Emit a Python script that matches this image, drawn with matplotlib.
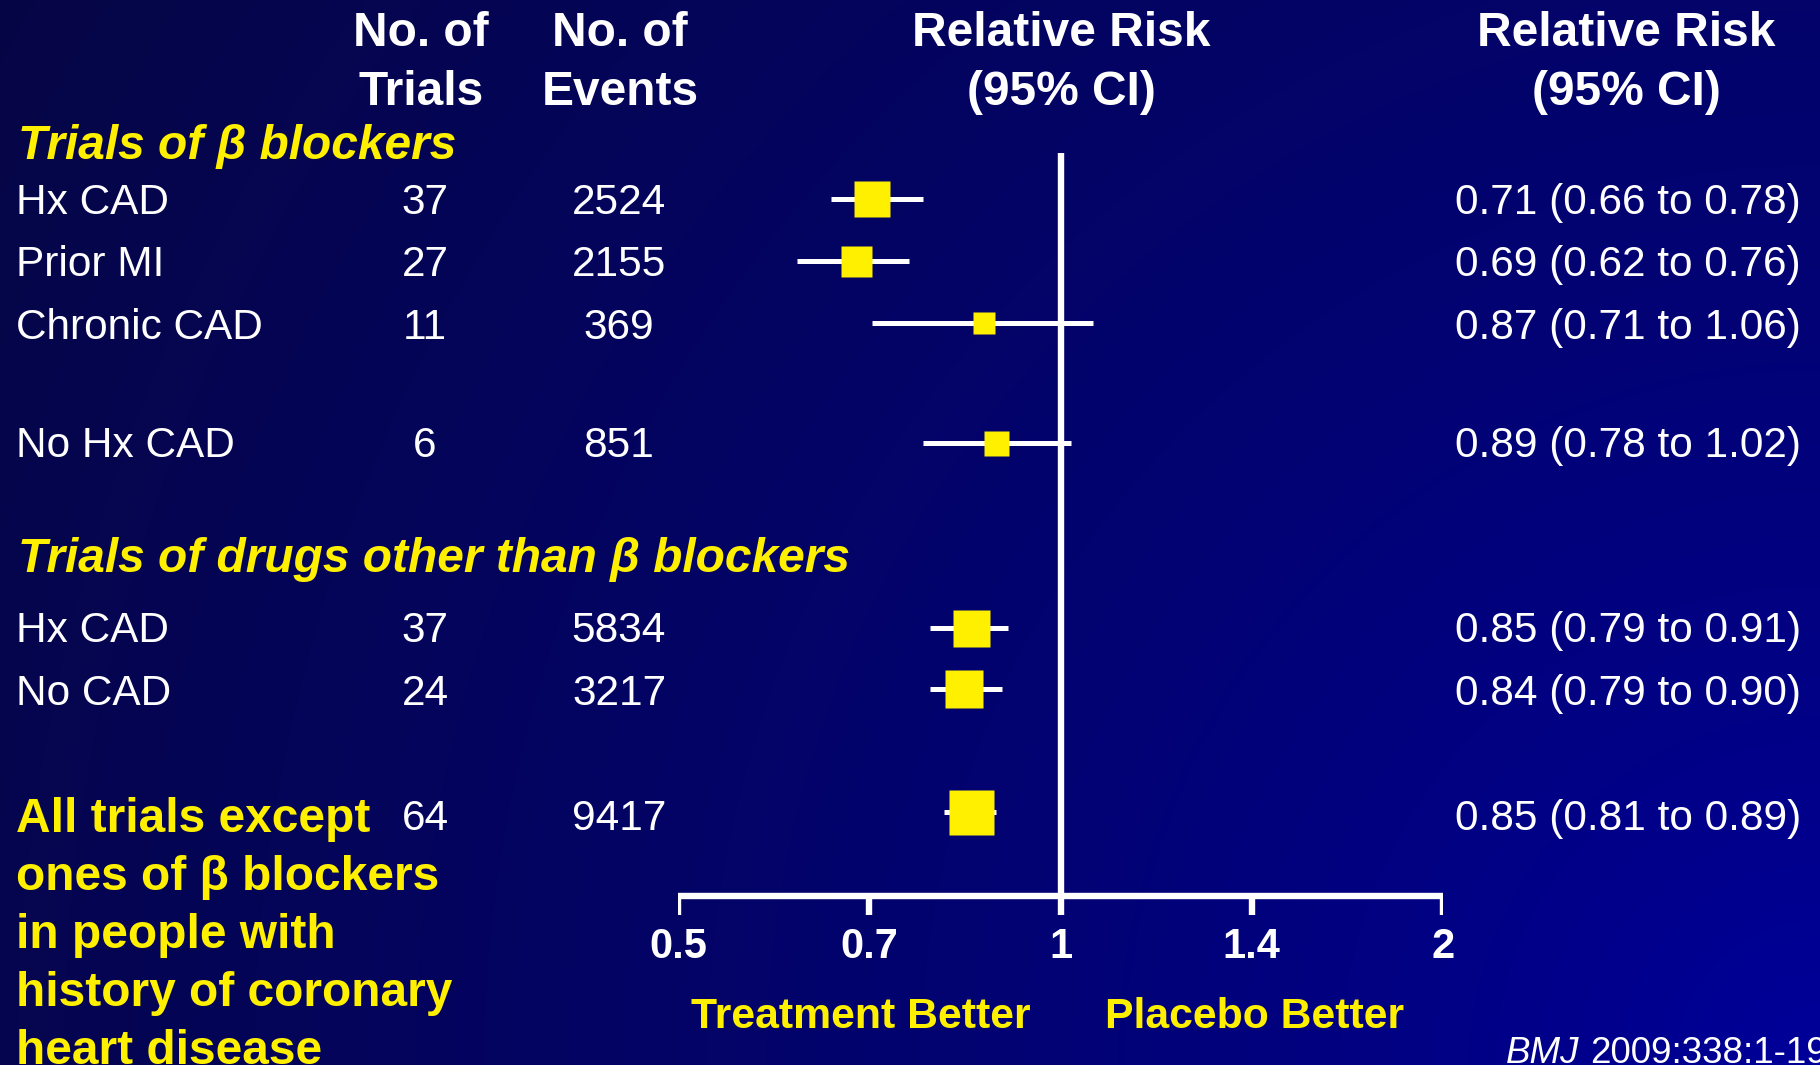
import numpy as np
import matplotlib
matplotlib.use("Agg")
import matplotlib.pyplot as plt

# ---- data -------------------------------------------------------------
row_labels = ["Hx CAD", "Prior MI", "Chronic CAD", "No Hx CAD",
              "Hx CAD", "No CAD", None]
n_trials = [37, 27, 11, 6, 37, 24, 64]
n_events = [2524, 2155, 369, 851, 5834, 3217, 9417]
rr = [0.71, 0.69, 0.87, 0.89, 0.85, 0.84, 0.85]
ci_low = [0.66, 0.62, 0.71, 0.78, 0.79, 0.79, 0.81]
ci_high = [0.78, 0.76, 1.06, 1.02, 0.91, 0.90, 0.89]

section_titles = ["Trials of \u03b2 blockers",
                  "Trials of drugs other than \u03b2 blockers"]
overall_label = ["All trials except", "ones of \u03b2 blockers",
                 "in people with", "history of coronary", "heart disease"]
tick_labels = ["0.5", "0.7", "1", "1.4", "2"]

# ---- layout (figure pixels, y measured from the top) -------------------
W, H = 1820, 1065
row_base = [214, 276, 339, 457, 642, 705, 830]   # text baselines
row_mid = [199, 261, 323, 443, 628, 689, 812]    # marker centres
section_base = [159, 572]
square_px = [36, 31, 23, 25, 37, 38, 45]
YELLOW = "#FFF000"
FONT = "Liberation Sans"
ROW_FS = 30.5
HEAD_FS = 34.5

fig = plt.figure(figsize=(W / 100, H / 100), dpi=100)

# background with a soft gradient, brightest toward the lower right
bg = fig.add_axes([0, 0, 1, 1])
yy, xx = np.mgrid[0:H, 0:W]
d = np.sqrt((W - xx) ** 2 + (H - yy) ** 2) / np.hypot(W, H)
blue = 155 - 85 * d ** 0.8
rg = 6 * d
img = np.dstack([rg, rg, blue]) / 255.0
bg.imshow(np.clip(img, 0, 1), extent=[0, W, H, 0], aspect="auto",
          interpolation="bilinear")
bg.set_xlim(0, W)
bg.set_ylim(H, 0)
bg.axis("off")


def put(x, y, s, size=ROW_FS, weight="normal", style="normal",
        color="white", ha="left"):
    bg.text(x, y, s, fontsize=size, fontweight=weight, fontstyle=style,
            color=color, ha=ha, va="baseline", family=FONT)


# column headings
for x, lines in [(421, ["No. of", "Trials"]), (620, ["No. of", "Events"]),
                 (1061, ["Relative Risk", "(95% CI)"]),
                 (1626, ["Relative Risk", "(95% CI)"])]:
    for k, s in enumerate(lines):
        put(x, 46 + 59 * k, s, size=HEAD_FS, weight="bold", ha="center")

# section titles
for y, s in zip(section_base, section_titles):
    put(18, y, s, size=HEAD_FS, weight="bold", style="italic", color=YELLOW)

# rows of text
for i in range(len(rr)):
    y = row_base[i]
    if row_labels[i] is not None:
        put(16, y, row_labels[i])
    put(425, y, str(n_trials[i]), ha="center")
    put(619, y, str(n_events[i]), ha="center")
    put(1455, y, f"{rr[i]:.2f} ({ci_low[i]:.2f} to {ci_high[i]:.2f})")

for k, s in enumerate(overall_label):
    put(16, 832 + 58 * k, s, size=HEAD_FS, weight="bold", color=YELLOW)

put(861, 1028, "Treatment Better", size=30.8, weight="bold", color=YELLOW,
    ha="center")
put(1255, 1028, "Placebo Better", size=30.8, weight="bold", color=YELLOW,
    ha="center")

bg.text(1506, 1063, "BMJ", fontsize=26.5, fontstyle="italic", color="white",
        va="baseline", family=FONT)
bg.text(1590, 1063, "2009:338:1-19", fontsize=26.5, color="white",
        va="baseline", family=FONT)

# ---- forest plot on a log scale ---------------------------------------
x0, x1 = 678, 1443
ax = fig.add_axes([x0 / W, 0, (x1 - x0) / W, 1])
ax.set_xscale("log")
ax.set_xlim(0.5, 2)
ax.set_ylim(H, 0)
ax.axis("off")
ax.patch.set_alpha(0)

axis_y = 896
ax.vlines(1, 153, axis_y, color="white", lw=4.6, capstyle="butt")
ax.hlines(axis_y, 0.5, 2, color="white", lw=4.6, capstyle="projecting")
# ticks evenly spaced in log units (half powers of two)
tick_pos = 0.5 * 2 ** (np.arange(len(tick_labels)) / 2)
ax.vlines(tick_pos, axis_y, 915, color="white", lw=4.6, capstyle="butt")
for t, lab in zip(tick_pos, tick_labels):
    ax.text(t, 958, lab, fontsize=30, fontweight="bold", color="white",
            ha="center", va="baseline", family=FONT)

for i in range(len(rr)):
    ax.hlines(row_mid[i], ci_low[i], ci_high[i], color="white", lw=3.6,
              capstyle="butt", zorder=2)
    ax.plot(rr[i], row_mid[i], marker="s", color=YELLOW, mec="none",
            ms=square_px[i] * 0.72, zorder=3)

fig.savefig("out.png", dpi=100)
